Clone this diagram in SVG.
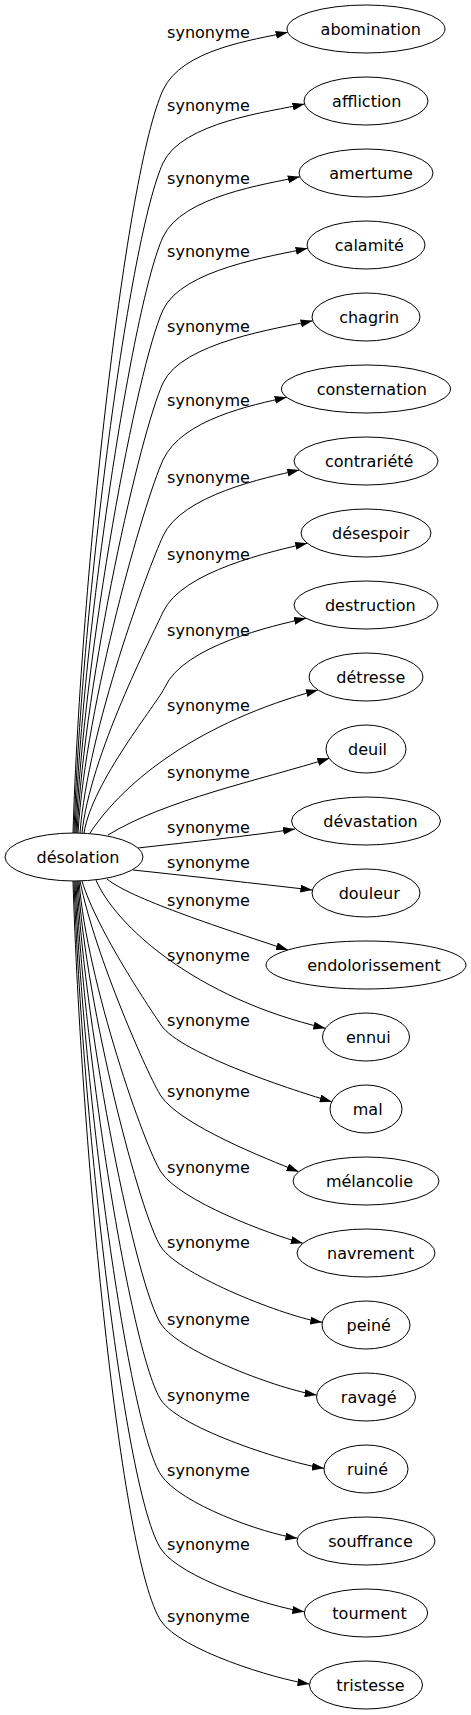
<svg xmlns="http://www.w3.org/2000/svg" width="471" height="1715" viewBox="0 0 471 1715">
<defs>
<style>
.node ellipse{fill:#fff;stroke:#000;stroke-width:1}
text{font-family:"DejaVu Sans",Verdana,sans-serif;font-size:16px;fill:#000;text-anchor:middle}
.edges path{fill:none;stroke:#000;stroke-width:1;marker-end:url(#ah)}
</style>
<marker id="ah" markerWidth="12" markerHeight="8" refX="12" refY="4" orient="auto" markerUnits="userSpaceOnUse"><polygon points="0,0 12,4 0,8" fill="#000"/></marker>
</defs>
<rect width="471" height="1715" fill="#fff"/>
<g id="connectors" class="edges">
<path d="M73,833 C81,573 125.9,171 163,90 C181.9,49 253.7,40 287.7,32.3"/>
<path d="M74,833 C82,598.5 129.5,236 163,163 C181.9,122 270.5,111.7 304.5,104"/>
<path d="M75,833 C83,624.4 133.2,302 163,237 C181.9,196 265.8,184.4 299.8,176.7"/>
<path d="M76,833 C84,650 136.9,367 163,310 C181.9,269 273.6,256 307.6,248.3"/>
<path d="M77,833 C85,675.5 140.5,432 163,383 C181.9,342 278.6,328.4 312.6,320.7"/>
<path d="M78,833 C86,702.5 144.4,500.7 163,460 C181.9,419 252.7,405 286.7,397.3"/>
<path d="M80,833 C88,729 148.2,568.4 163,536 C181.9,495 265.3,477.7 299.3,470"/>
<path d="M82,833 C90,755.7 152,636 163,612 C181.9,571 273.3,551 307.3,543.3"/>
<path d="M84,833 C92,781.9 157.7,702.9 165,687 C183.9,646 272,625.9 306,618.3"/>
<path d="M90,833 C125,780 200,722 318,690"/>
<path d="M108,835 C165,800 260,780 329.4,758.3"/>
<path d="M138,848 C190,842 250,836 295,829"/>
<path d="M133,870 C190,876 260,884 312.4,890"/>
<path d="M107,879 C130,898 215,926 288,950"/>
<path d="M96,880 C115,925 195,998 325.4,1028.3"/>
<path d="M82,881 C97,931 153.1,1013 161,1025 C180.3,1054 298.1,1091.9 331.7,1101.7"/>
<path d="M80,881 C95,956 149.2,1078.2 161,1096 C180.3,1125 266.1,1158.7 298.7,1171.7"/>
<path d="M79,881 C87,982.9 145,1147.8 161,1172 C180.3,1201 269.1,1234.2 302.9,1243.3"/>
<path d="M78,881 C86,1009 140.9,1216.6 161,1247 C180.3,1276 287.6,1317.4 322.3,1322.3"/>
<path d="M77,881 C85,1036 136.6,1287.2 161,1324 C180.3,1353 282,1390.1 316.7,1395"/>
<path d="M76,881 C84,1062.7 132.5,1356.9 161,1400 C180.3,1429 289.3,1463.4 324,1468.3"/>
<path d="M75,881 C83,1088.9 128.3,1425.7 161,1475 C180.3,1504 262.7,1533.4 297.4,1538.3"/>
<path d="M74,881 C82,1114.8 124.3,1493.6 161,1549 C180.3,1578 269.6,1606.8 304.3,1611.7"/>
<path d="M73,881 C81,1140 120.3,1559.6 161,1621 C180.3,1650 274.8,1679.1 309.5,1684"/>
<text x="208.5" y="38">synonyme</text>
<text x="208.5" y="111">synonyme</text>
<text x="208.5" y="184">synonyme</text>
<text x="208.5" y="257">synonyme</text>
<text x="208.5" y="332">synonyme</text>
<text x="208.5" y="405.5">synonyme</text>
<text x="208.5" y="483">synonyme</text>
<text x="208.5" y="559.5">synonyme</text>
<text x="208.5" y="635.5">synonyme</text>
<text x="208.5" y="710.5">synonyme</text>
<text x="208.5" y="777.5">synonyme</text>
<text x="208.5" y="832.5">synonyme</text>
<text x="208.5" y="868">synonyme</text>
<text x="208.5" y="905.5">synonyme</text>
<text x="208.5" y="960.5">synonyme</text>
<text x="208.5" y="1025.5">synonyme</text>
<text x="208.5" y="1096.5">synonyme</text>
<text x="208.5" y="1172.5">synonyme</text>
<text x="208.5" y="1247.5">synonyme</text>
<text x="208.5" y="1324.5">synonyme</text>
<text x="208.5" y="1400.5">synonyme</text>
<text x="208.5" y="1475.5">synonyme</text>
<text x="208.5" y="1549.5">synonyme</text>
<text x="208.5" y="1621.5">synonyme</text>
</g>
<g id="n-desolation" class="node"><ellipse cx="74" cy="857" rx="69" ry="24"/><text x="78" y="862.5">désolation</text></g>
<g id="n-abomination" class="node"><ellipse cx="366" cy="29" rx="79" ry="24"/><text x="370.8" y="34.5">abomination</text></g>
<g id="n-affliction" class="node"><ellipse cx="366" cy="101" rx="62" ry="24"/><text x="366.7" y="106.5">affliction</text></g>
<g id="n-amertume" class="node"><ellipse cx="366" cy="173" rx="67" ry="24"/><text x="371" y="178.5">amertume</text></g>
<g id="n-calamite" class="node"><ellipse cx="366" cy="245" rx="59" ry="24"/><text x="369.3" y="250.5">calamité</text></g>
<g id="n-chagrin" class="node"><ellipse cx="366" cy="317" rx="54" ry="24"/><text x="369.2" y="322.5">chagrin</text></g>
<g id="n-consternation" class="node"><ellipse cx="366" cy="389" rx="84.5" ry="24"/><text x="371.8" y="394.5">consternation</text></g>
<g id="n-contrariete" class="node"><ellipse cx="366" cy="461" rx="72" ry="24"/><text x="369.2" y="466.5">contrariété</text></g>
<g id="n-desespoir" class="node"><ellipse cx="366" cy="533" rx="65" ry="24"/><text x="370.8" y="538.5">désespoir</text></g>
<g id="n-destruction" class="node"><ellipse cx="366" cy="605" rx="72" ry="24"/><text x="370.3" y="610.5">destruction</text></g>
<g id="n-detresse" class="node"><ellipse cx="366" cy="677" rx="57" ry="24"/><text x="370.8" y="682.5">détresse</text></g>
<g id="n-deuil" class="node"><ellipse cx="366" cy="749" rx="40" ry="24"/><text x="367.5" y="754.5">deuil</text></g>
<g id="n-devastation" class="node"><ellipse cx="366" cy="821" rx="74.5" ry="24"/><text x="370.5" y="826.5">dévastation</text></g>
<g id="n-douleur" class="node"><ellipse cx="366" cy="893" rx="54" ry="24"/><text x="369.2" y="898.5">douleur</text></g>
<g id="n-endolorissement" class="node"><ellipse cx="366" cy="965" rx="100" ry="24"/><text x="374" y="970.5">endolorissement</text></g>
<g id="n-ennui" class="node"><ellipse cx="366" cy="1037" rx="43.5" ry="24"/><text x="368.3" y="1042.5">ennui</text></g>
<g id="n-mal" class="node"><ellipse cx="366" cy="1109" rx="36" ry="24"/><text x="367.7" y="1114.5">mal</text></g>
<g id="n-melancolie" class="node"><ellipse cx="366" cy="1181" rx="73" ry="24"/><text x="369.5" y="1186.5">mélancolie</text></g>
<g id="n-navrement" class="node"><ellipse cx="366" cy="1253" rx="69" ry="24"/><text x="370.7" y="1258.5">navrement</text></g>
<g id="n-peine" class="node"><ellipse cx="366" cy="1325" rx="44" ry="24"/><text x="368.7" y="1330.5">peiné</text></g>
<g id="n-ravage" class="node"><ellipse cx="366" cy="1397" rx="49.5" ry="24"/><text x="368.7" y="1402.5">ravagé</text></g>
<g id="n-ruine" class="node"><ellipse cx="366" cy="1469" rx="42" ry="24"/><text x="367.5" y="1474.5">ruiné</text></g>
<g id="n-souffrance" class="node"><ellipse cx="366" cy="1541" rx="69" ry="24"/><text x="370.5" y="1546.5">souffrance</text></g>
<g id="n-tourment" class="node"><ellipse cx="366" cy="1613" rx="61.7" ry="24"/><text x="369.5" y="1618.5">tourment</text></g>
<g id="n-tristesse" class="node"><ellipse cx="366" cy="1685" rx="56.5" ry="24"/><text x="370.5" y="1690.5">tristesse</text></g>
</svg>
